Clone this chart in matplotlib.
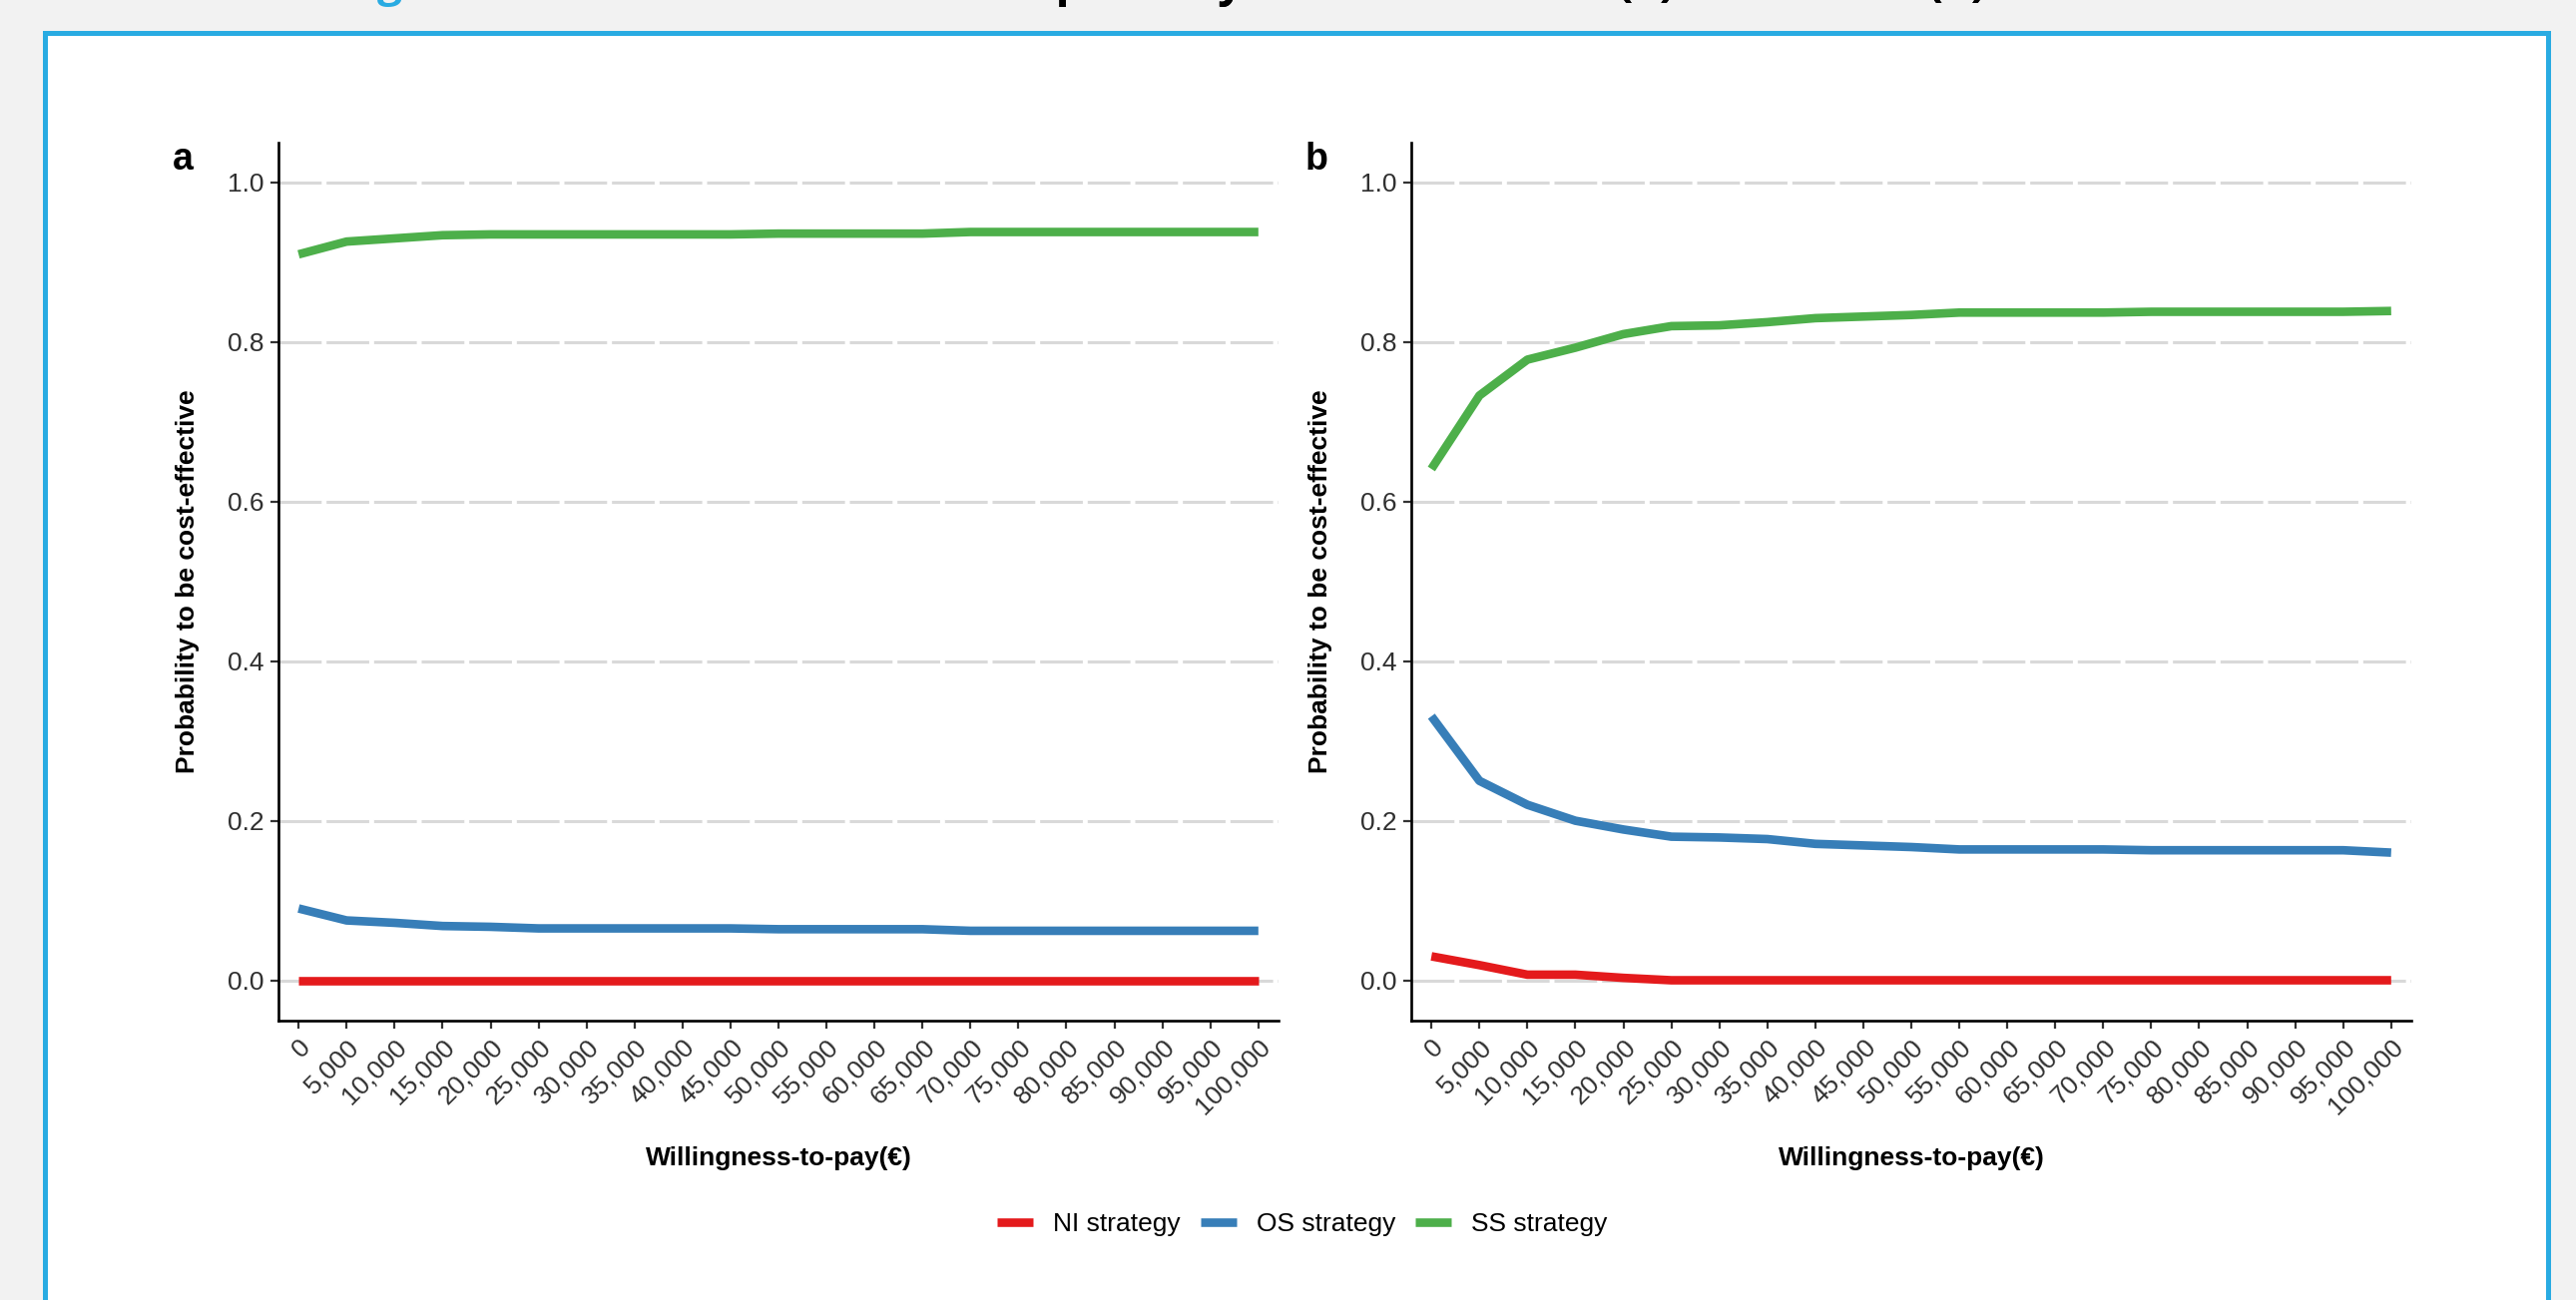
import matplotlib
matplotlib.use('Agg')
import matplotlib.pyplot as plt
from matplotlib.patches import Rectangle

# willingness-to-pay grid (EUR)
wtp = [0, 5000, 10000, 15000, 20000, 25000, 30000, 35000, 40000, 45000, 50000,
       55000, 60000, 65000, 70000, 75000, 80000, 85000, 90000, 95000, 100000]
wtp_labels = ["0", "5,000", "10,000", "15,000", "20,000", "25,000", "30,000", "35,000",
              "40,000", "45,000", "50,000", "55,000", "60,000", "65,000", "70,000",
              "75,000", "80,000", "85,000", "90,000", "95,000", "100,000"]

# panel a
ni_a = [0.0, 0.0, 0.0, 0.0, 0.0, 0.0, 0.0, 0.0, 0.0, 0.0, 0.0,
        0.0, 0.0, 0.0, 0.0, 0.0, 0.0, 0.0, 0.0, 0.0, 0.0]
os_a = [0.090, 0.075, 0.072, 0.068, 0.067, 0.065, 0.065, 0.065, 0.065, 0.065, 0.064,
        0.064, 0.064, 0.064, 0.062, 0.062, 0.062, 0.062, 0.062, 0.062, 0.062]
ss_a = [0.910, 0.926, 0.930, 0.934, 0.935, 0.935, 0.935, 0.935, 0.935, 0.935, 0.936,
        0.936, 0.936, 0.936, 0.938, 0.938, 0.938, 0.938, 0.938, 0.938, 0.938]

# panel b
ni_b = [0.030, 0.019, 0.007, 0.007, 0.003, 0.0, 0.0, 0.0, 0.0, 0.0, 0.0,
        0.0, 0.0, 0.0, 0.0, 0.0, 0.0, 0.0, 0.0, 0.0, 0.0]
os_b = [0.331, 0.250, 0.220, 0.200, 0.189, 0.180, 0.179, 0.177, 0.171, 0.169, 0.167,
        0.164, 0.164, 0.164, 0.164, 0.163, 0.163, 0.163, 0.163, 0.163, 0.160]
ss_b = [0.641, 0.733, 0.778, 0.793, 0.810, 0.820, 0.821, 0.825, 0.830, 0.832, 0.834,
        0.837, 0.837, 0.837, 0.837, 0.838, 0.838, 0.838, 0.838, 0.838, 0.839]

strategies = ["NI strategy", "OS strategy", "SS strategy"]
colors = ["#e41a1c", "#377eb8", "#4daf4a"]
y_ticks = [0.0, 0.2, 0.4, 0.6, 0.8, 1.0]

plt.rcParams['font.family'] = ['Liberation Sans', 'DejaVu Sans']

W, H = 2581, 1303
fig = plt.figure(figsize=(W / 100, H / 100), dpi=100, facecolor="#f2f2f2")

# framed box of the page
box = Rectangle((44.5 / W, -0.05), (2552.5 - 44.5) / W, 1.05 - 32.5 / H,
                transform=fig.transFigure, facecolor="white", edgecolor="#29abe2",
                linewidth=3.6, zorder=0)
fig.patches.append(box)

# caption, cut off at the very top of the screenshot
t1 = fig.text(340 / W, 1 + 4 / H, "Figure 3", color="#29abe2", fontsize=32,
              fontweight="bold", family=["Open Sans", "DejaVu Sans"], va="baseline", ha="left")
ann = plt.annotate(". Cost-Effectiveness Acceptability Curve for DMHZ (a) and DMHZ (b) HE carriers.",
                   xy=(1, 0), xycoords=t1, va="bottom", ha="left", fontsize=32,
                   fontweight="bold", family=["Open Sans", "DejaVu Sans"], color="black",
                   annotation_clip=False)
fig.texts.append(ann)

panels = [
    ("a", 279, [ni_a, os_a, ss_a]),
    ("b", 1414, [ni_b, os_b, ss_b]),
]
handles = []
for letter, left_px, series in panels:
    ax = fig.add_axes([left_px / W, 1 - 1022.5 / H, 1002 / W, (1022.5 - 143) / H])
    ax.set_facecolor("none")
    ax.set_zorder(2)
    for yv in y_ticks:
        ax.axhline(yv, color="#d9d9d9", lw=2.2, dashes=(14, 1.6), zorder=1)
    lines = []
    for vals, name, c in zip(series, strategies, colors):
        ln, = ax.plot(wtp, vals, color=c, lw=6.2, solid_capstyle="butt",
                      solid_joinstyle="round", label=name, zorder=3)
        lines.append(ln)
    handles = lines
    ax.set_xlim(-2100, 102100)
    ax.set_ylim(-0.05, 1.05)
    ax.set_yticks(y_ticks)
    ax.set_yticklabels(["0.0", "0.2", "0.4", "0.6", "0.8", "1.0"])
    ax.set_xticks(wtp)
    ax.set_xticklabels(wtp_labels, rotation=45, ha="right", va="top", rotation_mode="anchor")
    for s in ["top", "right"]:
        ax.spines[s].set_visible(False)
    for s in ["left", "bottom"]:
        ax.spines[s].set_linewidth(1.9)
        ax.spines[s].set_color("black")
    ax.tick_params(axis="both", length=5.5, width=1.6, color="#333333",
                   labelsize=19, labelcolor="#303030", pad=5)
    ax.set_xlabel("Willingness-to-pay(€)", fontsize=19, fontweight="bold")
    ax.set_ylabel("Probability to be cost-effective", fontsize=19, fontweight="bold")
    ax.xaxis.set_label_coords(0.5, -(1161 - 1022.5) / 879.5)
    ax.xaxis.label.set_va("center")
    ax.yaxis.set_label_coords(-91 / 1002, 0.5)
    ax.yaxis.label.set_va("center")
    fig.text((left_px - 106) / W, 1 - 170 / H, letter, fontsize=27,
             fontweight="bold", va="baseline", ha="left")

fig.legend(handles, strategies, loc="center", bbox_to_anchor=(1305 / W, 1 - 1227 / H),
           ncol=3, frameon=False, fontsize=19, handlelength=1.36, handletextpad=0.76,
           columnspacing=0.76)

fig.savefig("out.png", dpi=100, facecolor=fig.get_facecolor())
